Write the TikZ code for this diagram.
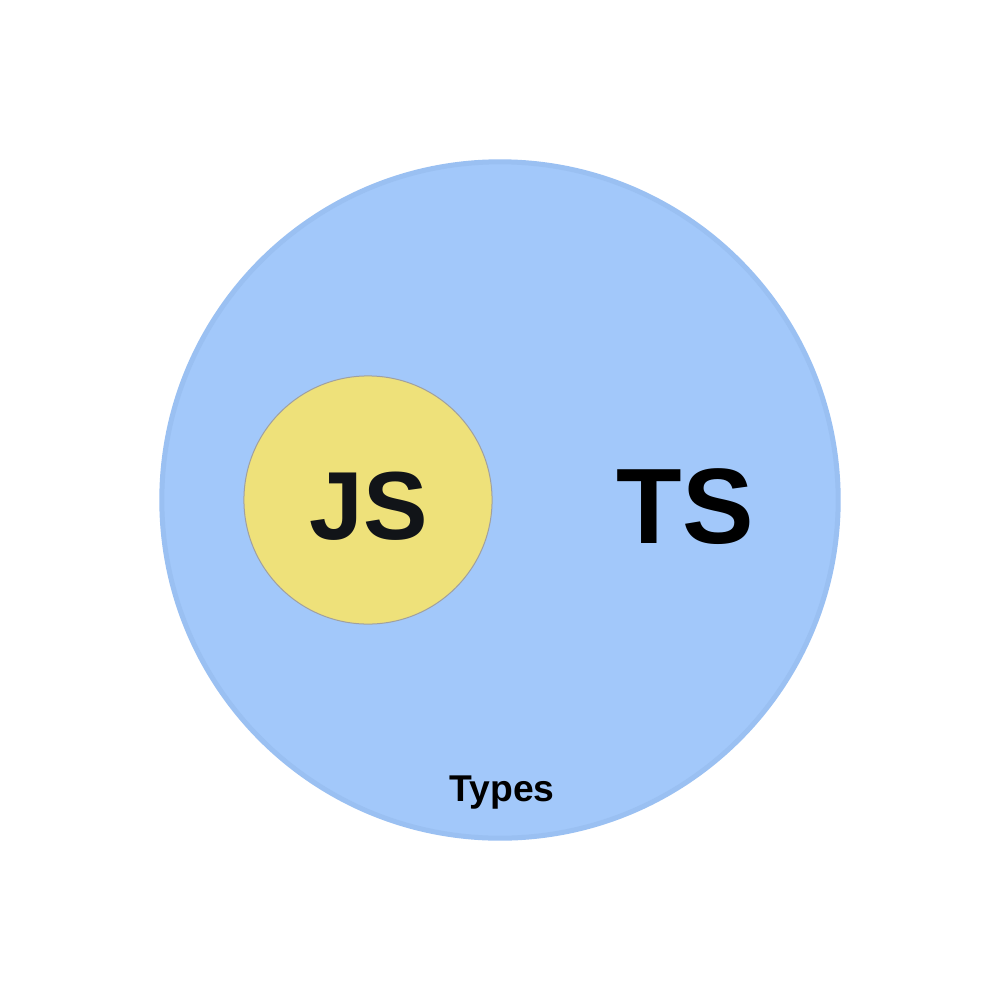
\documentclass[tikz,border=0pt]{standalone}
\usepackage{fontspec}
\setmainfont{Liberation Sans}
\definecolor{tsblue}{HTML}{A2C8FA}
\definecolor{tsedge}{HTML}{9AC0F2}
\definecolor{jsyellow}{HTML}{EEE17A}
\definecolor{jsedge}{HTML}{A0A0A0}
\definecolor{jstext}{HTML}{111418}
\tikzset{
  outer/.style={circle, fill=tsblue, draw=tsedge, line width=0.05cm, minimum size=6.76cm, inner sep=0pt},
  inner/.style={circle, fill=jsyellow, draw=jsedge, line width=0.01cm, minimum size=2.48cm, inner sep=0pt},
  lbl/.style={font=\bfseries, inner sep=0pt}
}
\begin{document}
\begin{tikzpicture}[x=0.01cm,y=-0.01cm]
\useasboundingbox (0,0) rectangle (1000,1000);
\fill[white] (0,0) rectangle (1000,1000);
\node[outer] (ts) at (500,500) {};
\node[inner] (js) at (368,500) {};
\node[lbl, font=\fontsize{27.5}{27.5}\selectfont\bfseries, text=jstext, anchor=base] (jsl) at (369,539) {JS};
\node[lbl, font=\fontsize{30.5}{30.5}\selectfont\bfseries, text=black, anchor=base] (tsl) at (685,543) {TS};
\node[lbl, font=\fontsize{10.6}{10.6}\selectfont\bfseries, text=black, anchor=base] (types) at (502,801) {Types};
\end{tikzpicture}
\end{document}
